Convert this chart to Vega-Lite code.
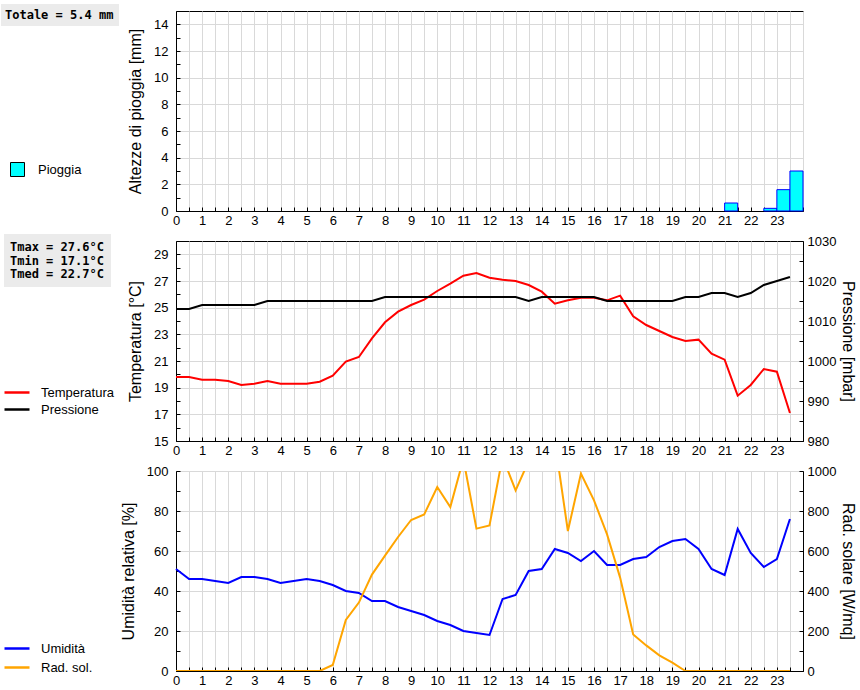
{
  "$schema": "https://vega.github.io/schema/vega-lite/v6.json",
  "autosize": {"type": "pad"},
  "padding": {"left": 0, "top": 3, "right": 0, "bottom": 3},
  "background": "white",
  "config": {
    "font": "Liberation Sans",
    "view": {"stroke": "black", "strokeWidth": 1},
    "axis": {
      "labelFont": "Liberation Sans", "labelFontSize": 13, "labelColor": "black",
      "titleFont": "Liberation Sans", "titleFontSize": 16, "titleFontWeight": "normal", "titleColor": "black",
      "domainColor": "black", "tickColor": "black", "tickSize": -4, "gridColor": "#d9d9d9", "gridWidth": 1,
      "labelPadding": 12, "titlePadding": 10, "labelOverlap": false, "labelFlush": false
    },
    "legend": {"labelFont": "Liberation Sans", "labelFontSize": 13, "labelColor": "black"}
  },
  "datasets": {
    "meteo": [
      {"h": 0, "t": 19.8, "p": 1013, "u": 51, "r": 0},
      {"h": 0.5, "t": 19.8, "p": 1013, "u": 46, "r": 0},
      {"h": 1, "t": 19.6, "p": 1014, "u": 46, "r": 0},
      {"h": 1.5, "t": 19.6, "p": 1014, "u": 45, "r": 0},
      {"h": 2, "t": 19.5, "p": 1014, "u": 44, "r": 0},
      {"h": 2.5, "t": 19.2, "p": 1014, "u": 47, "r": 0},
      {"h": 3, "t": 19.3, "p": 1014, "u": 47, "r": 0},
      {"h": 3.5, "t": 19.5, "p": 1015, "u": 46, "r": 0},
      {"h": 4, "t": 19.3, "p": 1015, "u": 44, "r": 0},
      {"h": 4.5, "t": 19.3, "p": 1015, "u": 45, "r": 0},
      {"h": 5, "t": 19.3, "p": 1015, "u": 46, "r": 0},
      {"h": 5.5, "t": 19.45, "p": 1015, "u": 45, "r": 0},
      {"h": 6, "t": 19.9, "p": 1015, "u": 43, "r": 30},
      {"h": 6.5, "t": 20.95, "p": 1015, "u": 40, "r": 255},
      {"h": 7, "t": 21.3, "p": 1015, "u": 39, "r": 342},
      {"h": 7.5, "t": 22.7, "p": 1015, "u": 35, "r": 482},
      {"h": 8, "t": 23.9, "p": 1016, "u": 35, "r": 577},
      {"h": 8.5, "t": 24.7, "p": 1016, "u": 32, "r": 670},
      {"h": 9, "t": 25.2, "p": 1016, "u": 30, "r": 755},
      {"h": 9.5, "t": 25.6, "p": 1016, "u": 28, "r": 783},
      {"h": 10, "t": 26.25, "p": 1016, "u": 25, "r": 920},
      {"h": 10.5, "t": 26.8, "p": 1016, "u": 23, "r": 820},
      {"h": 11, "t": 27.4, "p": 1016, "u": 20, "r": 1060},
      {"h": 11.5, "t": 27.6, "p": 1016, "u": 19, "r": 712},
      {"h": 12, "t": 27.25, "p": 1016, "u": 18, "r": 728},
      {"h": 12.5, "t": 27.1, "p": 1016, "u": 36, "r": 1070},
      {"h": 13, "t": 27.0, "p": 1016, "u": 38, "r": 903},
      {"h": 13.5, "t": 26.7, "p": 1015, "u": 50, "r": 1050},
      {"h": 14, "t": 26.2, "p": 1016, "u": 51, "r": 1120},
      {"h": 14.5, "t": 25.3, "p": 1016, "u": 61, "r": 1150},
      {"h": 15, "t": 25.55, "p": 1016, "u": 59, "r": 700},
      {"h": 15.5, "t": 25.75, "p": 1016, "u": 55, "r": 987},
      {"h": 16, "t": 25.75, "p": 1016, "u": 60, "r": 853},
      {"h": 16.5, "t": 25.55, "p": 1015, "u": 53, "r": 683},
      {"h": 17, "t": 25.9, "p": 1015, "u": 53, "r": 467},
      {"h": 17.5, "t": 24.35, "p": 1015, "u": 56, "r": 183},
      {"h": 18, "t": 23.7, "p": 1015, "u": 57, "r": 128},
      {"h": 18.5, "t": 23.25, "p": 1015, "u": 62, "r": 78},
      {"h": 19, "t": 22.8, "p": 1015, "u": 65, "r": 42},
      {"h": 19.5, "t": 22.5, "p": 1016, "u": 66, "r": 0},
      {"h": 20, "t": 22.6, "p": 1016, "u": 61, "r": 0},
      {"h": 20.5, "t": 21.55, "p": 1017, "u": 51, "r": 0},
      {"h": 21, "t": 21.1, "p": 1017, "u": 48, "r": 0},
      {"h": 21.5, "t": 18.4, "p": 1016, "u": 71, "r": 0},
      {"h": 22, "t": 19.2, "p": 1017, "u": 59, "r": 0},
      {"h": 22.5, "t": 20.4, "p": 1019, "u": 52, "r": 0},
      {"h": 23, "t": 20.2, "p": 1020, "u": 56, "r": 0},
      {"h": 23.5, "t": 17.1, "p": 1021, "u": 76, "r": 0}
    ],
    "pioggia": [
      {"start": 21, "end": 21.5, "mm": 0.6},
      {"start": 22.5, "end": 23, "mm": 0.2},
      {"start": 23, "end": 23.5, "mm": 1.6},
      {"start": 23.5, "end": 24, "mm": 3.0}
    ],
    "totale": [{"stat": "Totale = 5.4 mm"}],
    "tstat": [
      {"stat": "Tmax = 27.6°C"},
      {"stat": "Tmin = 17.1°C"},
      {"stat": "Tmed = 22.7°C"}
    ]
  },
  "bounds": "flush",
  "spacing": 30,
  "resolve": {"scale": {"color": "independent", "shape": "independent", "fill": "independent"}},
  "vconcat": [
    {
      "width": 627, "height": 200,
      "layer": [
        {
          "data": {"name": "pioggia"},
          "mark": {"type": "bar", "stroke": "#0000ff", "strokeWidth": 1},
          "encoding": {
            "x": {"field": "start", "type": "quantitative", "scale": {"domain": [0, 24], "nice": false},
              "axis": {"title": null, "grid": true, "labelOverlap": false, "labelPadding": 7, "values": [0,0.5,1,1.5,2,2.5,3,3.5,4,4.5,5,5.5,6,6.5,7,7.5,8,8.5,9,9.5,10,10.5,11,11.5,12,12.5,13,13.5,14,14.5,15,15.5,16,16.5,17,17.5,18,18.5,19,19.5,20,20.5,21,21.5,22,22.5,23,23.5,24],
                "labelExpr": "datum.value % 1 === 0 && datum.value < 24 ? datum.value : ''"}},
            "x2": {"field": "end"},
            "y": {"field": "mm", "type": "quantitative", "scale": {"domain": [0, 15], "nice": false},
              "axis": {"title": "Altezze di pioggia [mm]", "grid": true, "labelOverlap": false, "values": [0,1,2,3,4,5,6,7,8,9,10,11,12,13,14,15],
                "labelExpr": "datum.value % 2 === 0 && datum.value < 15 ? datum.value : ''",
                "gridOpacity": {"condition": {"test": "datum.value % 2 === 0", "value": 1}, "value": 0}}},
            "y2": {"datum": 0},
            "fill": {"datum": "Pioggia", "type": "nominal", "scale": {"range": ["#00ffff"]},
              "legend": {"orient": "none", "legendX": -166, "legendY": 151, "title": null, "symbolType": "square",
                "symbolSize": 196, "symbolStrokeColor": "black", "symbolStrokeWidth": 1, "labelOffset": 13, "padding": 0}}
          }
        },
        {
          "data": {"name": "totale"},
          "mark": {"type": "point", "opacity": 0, "size": 1},
          "encoding": {
            "shape": {"field": "stat", "type": "nominal",
              "legend": {"orient": "none", "legendX": -175, "legendY": -7, "title": null, "symbolSize": 1, "symbolOpacity": 0,
                "labelOffset": -13, "labelFont": "DejaVu Sans Mono", "labelFontWeight": "bold", "labelFontSize": 12,
                "fillColor": "#ebebeb", "padding": 5}}
          }
        }
      ]
    },
    {
      "width": 627, "height": 200,
      "data": {"name": "meteo"},
      "encoding": {
        "x": {"field": "h", "type": "quantitative", "scale": {"domain": [0, 24], "nice": false},
          "axis": {"title": null, "grid": true, "labelOverlap": false, "labelPadding": 7, "values": [0,0.5,1,1.5,2,2.5,3,3.5,4,4.5,5,5.5,6,6.5,7,7.5,8,8.5,9,9.5,10,10.5,11,11.5,12,12.5,13,13.5,14,14.5,15,15.5,16,16.5,17,17.5,18,18.5,19,19.5,20,20.5,21,21.5,22,22.5,23,23.5,24],
            "labelExpr": "datum.value % 1 === 0 && datum.value < 24 ? datum.value : ''"}}
      },
      "layer": [
        {
          "mark": {"type": "line", "strokeWidth": 2},
          "encoding": {
            "y": {"field": "t", "type": "quantitative", "scale": {"domain": [15, 30], "nice": false},
              "axis": {"title": "Temperatura [°C]", "grid": true, "labelOverlap": false, "values": [15,16,17,18,19,20,21,22,23,24,25,26,27,28,29,30],
                "labelExpr": "datum.value % 2 === 1 ? datum.value : ''",
                "gridOpacity": {"condition": {"test": "datum.value % 2 === 1", "value": 1}, "value": 0}}},
            "color": {"datum": "Temperatura", "type": "nominal",
              "scale": {"domain": ["Temperatura", "Pressione"], "range": ["#ff0000", "#000000"]},
              "legend": {"orient": "none", "legendX": -173, "legendY": 143, "title": null, "symbolType": "stroke",
                "symbolSize": 625, "symbolStrokeWidth": 2.5, "labelOffset": 10, "rowPadding": 0, "clipHeight": 17, "padding": 0}}
          }
        },
        {
          "mark": {"type": "line", "strokeWidth": 2},
          "encoding": {
            "y": {"field": "p", "type": "quantitative", "scale": {"domain": [980, 1030], "nice": false},
              "axis": {"title": "Pressione [mbar]", "orient": "right", "grid": false, "labelOverlap": false, "labelPadding": 8, "titlePadding": 4,
                "values": [980,985,990,995,1000,1005,1010,1015,1020,1025,1030],
                "labelExpr": "datum.value % 10 === 0 ? datum.value : ''"}},
            "color": {"datum": "Pressione", "type": "nominal"}
          }
        },
        {
          "data": {"name": "tstat"},
          "mark": {"type": "point", "opacity": 0, "size": 1},
          "encoding": {
            "x": {"value": 0},
            "shape": {"field": "stat", "type": "nominal",
              "scale": {"domain": ["Tmax = 27.6°C", "Tmin = 17.1°C", "Tmed = 22.7°C"]},
              "legend": {"orient": "none", "legendX": -172, "legendY": -7, "title": null, "symbolSize": 1, "symbolOpacity": 0,
                "labelOffset": -13, "labelFont": "DejaVu Sans Mono", "labelFontWeight": "bold", "labelFontSize": 12,
                "rowPadding": 1.5, "fillColor": "#ebebeb", "padding": 7}}
          }
        }
      ],
      "resolve": {"scale": {"y": "independent"}}
    },
    {
      "width": 627, "height": 200,
      "data": {"name": "meteo"},
      "encoding": {
        "x": {"field": "h", "type": "quantitative", "scale": {"domain": [0, 24], "nice": false},
          "axis": {"title": null, "grid": true, "labelOverlap": false, "labelPadding": 7, "values": [0,0.5,1,1.5,2,2.5,3,3.5,4,4.5,5,5.5,6,6.5,7,7.5,8,8.5,9,9.5,10,10.5,11,11.5,12,12.5,13,13.5,14,14.5,15,15.5,16,16.5,17,17.5,18,18.5,19,19.5,20,20.5,21,21.5,22,22.5,23,23.5,24],
            "labelExpr": "datum.value % 1 === 0 && datum.value < 24 ? datum.value : ''"}}
      },
      "layer": [
        {
          "mark": {"type": "line", "strokeWidth": 2},
          "encoding": {
            "y": {"field": "u", "type": "quantitative", "scale": {"domain": [0, 100], "nice": false},
              "axis": {"title": "Umidità relativa [%]", "grid": true, "labelOverlap": false, "values": [0,10,20,30,40,50,60,70,80,90,100],
                "labelExpr": "datum.value % 20 === 0 ? datum.value : ''",
                "gridOpacity": {"condition": {"test": "datum.value % 20 === 0", "value": 1}, "value": 0}}},
            "color": {"datum": "Umidità", "type": "nominal",
              "scale": {"domain": ["Umidità", "Rad. sol."], "range": ["#0000ff", "#ffa500"]},
              "legend": {"orient": "none", "legendX": -173, "legendY": 168, "title": null, "symbolType": "stroke",
                "symbolSize": 625, "symbolStrokeWidth": 2.5, "labelOffset": 10, "rowPadding": 0, "clipHeight": 19, "padding": 0}}
          }
        },
        {
          "mark": {"type": "line", "strokeWidth": 2, "clip": true},
          "encoding": {
            "y": {"field": "r", "type": "quantitative", "scale": {"domain": [0, 1000], "nice": false},
              "axis": {"title": "Rad. solare [W/mq]", "orient": "right", "grid": false, "labelOverlap": false, "labelPadding": 8, "titlePadding": 4,
                "values": [0,100,200,300,400,500,600,700,800,900,1000],
                "labelExpr": "datum.value % 200 === 0 ? datum.value : ''"}},
            "color": {"datum": "Rad. sol.", "type": "nominal"}
          }
        }
      ],
      "resolve": {"scale": {"y": "independent"}}
    }
  ]
}
